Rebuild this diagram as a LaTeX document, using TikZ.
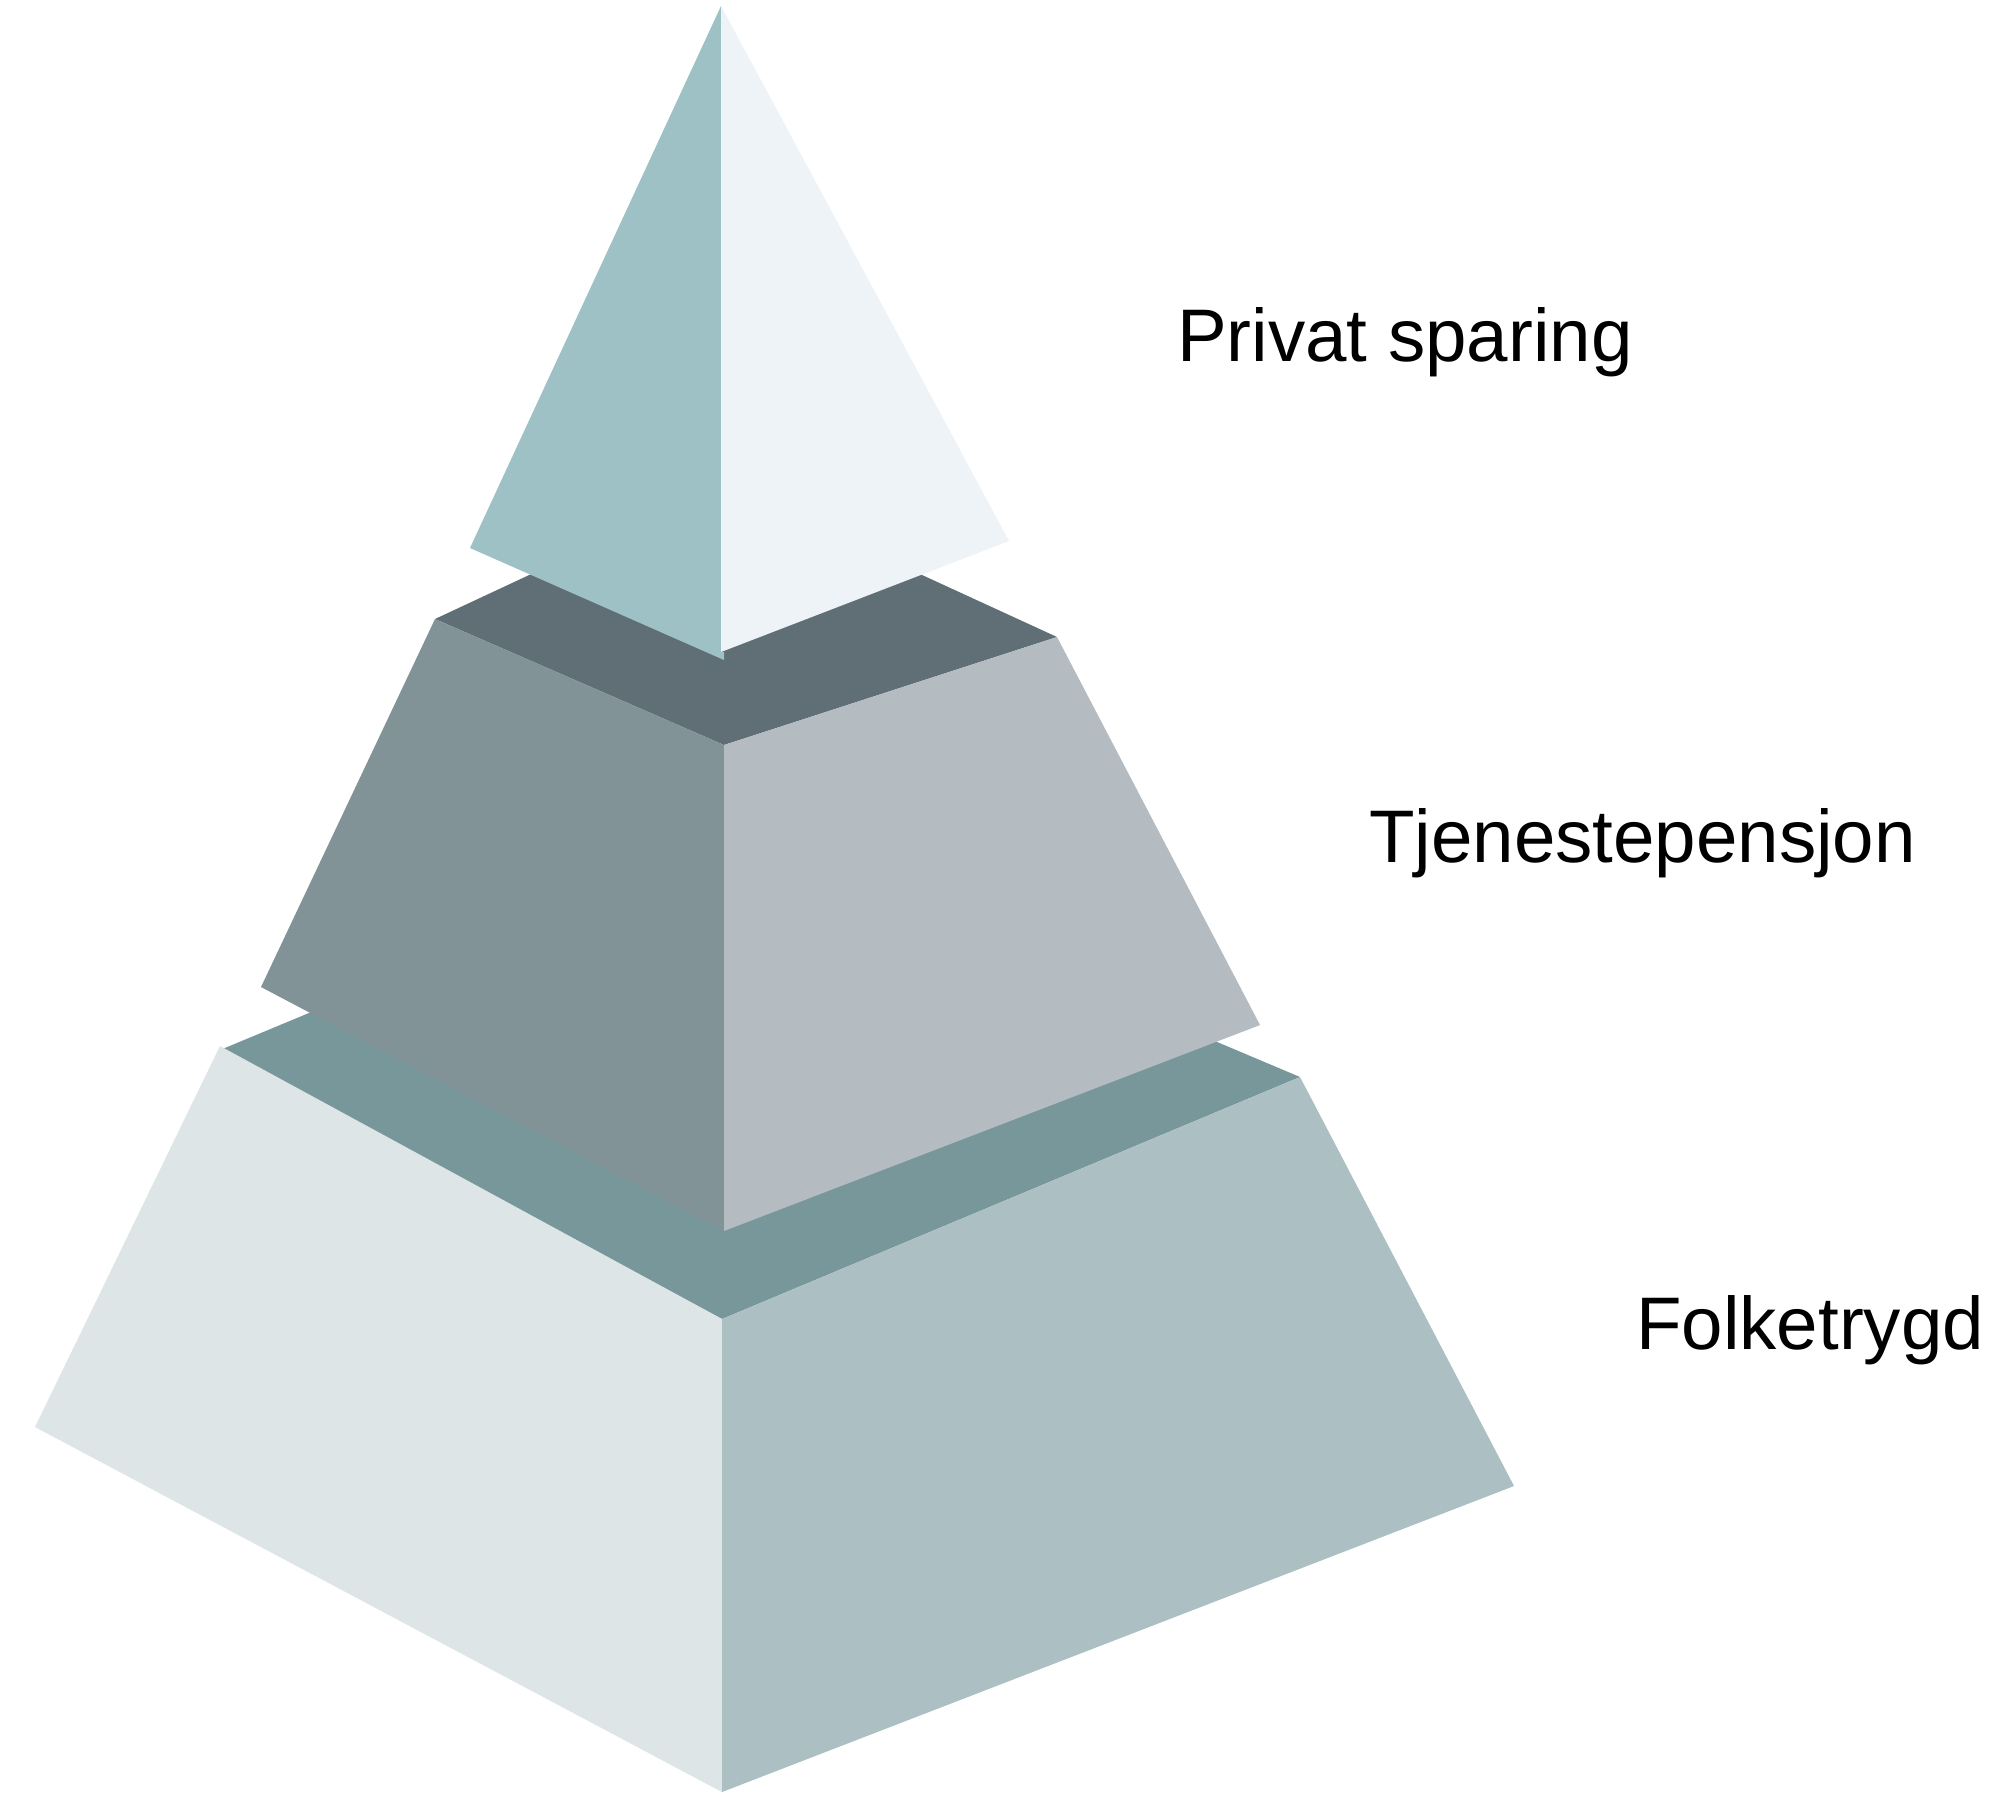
\documentclass[tikz,border=0pt]{standalone}
\usepackage{fontspec}
\setmainfont{Liberation Sans}
\definecolor{topL}{HTML}{9DC1C5}
\definecolor{topR}{HTML}{EDF3F6}
\definecolor{midT}{HTML}{5F6F75}
\definecolor{midL}{HTML}{829398}
\definecolor{midR}{HTML}{B4BCC2}
\definecolor{botT}{HTML}{78979A}
\definecolor{botL}{HTML}{DEE5E7}
\definecolor{botR}{HTML}{ACBFC2}
\tikzset{lbl/.style={anchor=base west,inner sep=0pt,font=\fontsize{74.5}{90}\selectfont}}
\begin{document}
\begin{tikzpicture}[x=1pt,y=-1pt]
\useasboundingbox[fill=white] (0,0) rectangle (2007,1792);
% bottom tier
\fill[botT] (220,1050) -- (732,837) -- (1300,1077) -- (722,1319) -- cycle;
\fill[botL] (220,1046) -- (722,1319) -- (722,1792) -- (35,1427) -- cycle;
\fill[botR] (722,1319) -- (1300,1077) -- (1514,1486) -- (722,1792) -- cycle;
% middle tier
\fill[midT] (435,619) -- (724,484) -- (1057,637) -- (724,745) -- cycle;
\fill[midL] (435,619) -- (724,745) -- (724,1231) -- (261,987) -- cycle;
\fill[midR] (724,745) -- (1057,637) -- (1260,1025) -- (724,1231) -- cycle;
% top pyramid
\fill[topL] (721,6) -- (721,652) -- (724,652) -- (724,660) -- (470,548) -- cycle;
\fill[topR] (721,6) -- (1009,541) -- (721,652) -- cycle;
% labels
\node[lbl] (privat) at (1177,361) {Privat sparing};
\node[lbl] (tjeneste) at (1369,862) {Tjenestepensjon};
\node[lbl] (folke) at (1636,1349) {Folketrygd};
\end{tikzpicture}
\end{document}
